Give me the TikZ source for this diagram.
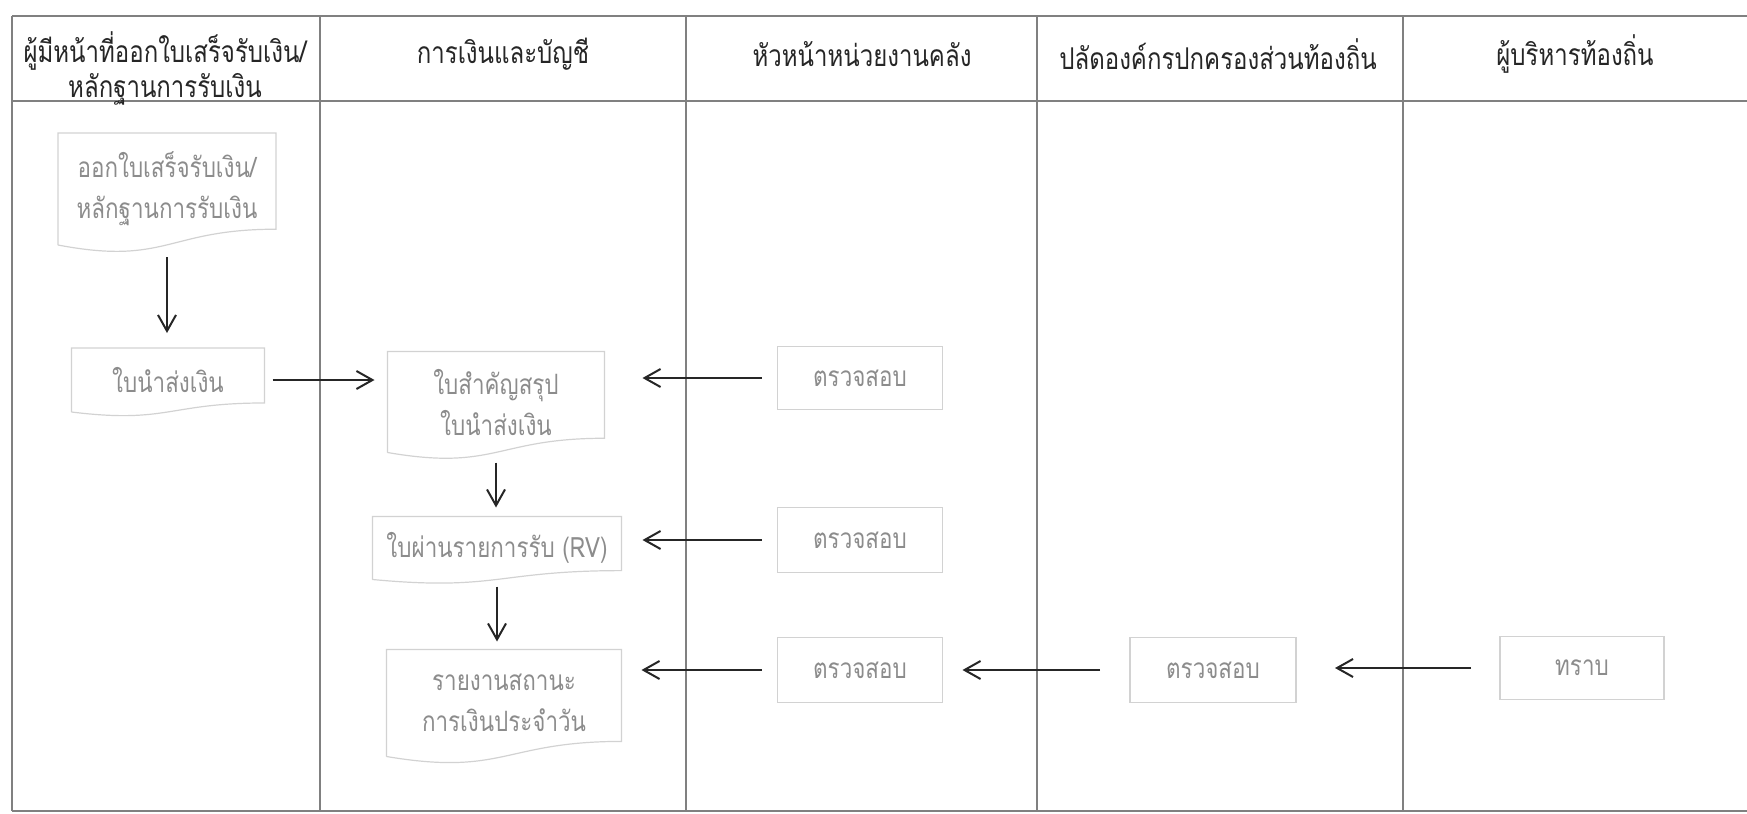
\documentclass[tikz,border=0pt]{standalone}
\usepackage{fontspec}
\newfontfamily\thaifont[Script=Thai,FakeStretch=0.8]{Loma}
\usetikzlibrary{calc,arrows.meta}
\definecolor{boxgray}{HTML}{D2D2D2}
\definecolor{textgray}{HTML}{8C8C8C}
\definecolor{linegray}{HTML}{808080}

% outline of a document box: flat top, wavy bottom
\newcommand{\docoutline}[1]{%
  \draw[boxline] (#1.south west) -- (#1.north west) -- (#1.north east)
    -- ($(#1.south east)!0.141!(#1.north east)$)
    .. controls ($(#1.south)!0.141!(#1.north)$) and ($(#1.south)!-0.185!(#1.north)$) .. (#1.south west);}

\begin{document}
\begin{tikzpicture}[x=0.5pt, y=-0.5pt,
  lane/.style={linegray, line width=0.7pt},
  lanetitle/.style={font=\thaifont\fontsize{15}{17.5}\selectfont, text=black!85, align=center},
  docbox/.style={inner sep=0pt, outer sep=0pt, align=center, text=textgray, font=\thaifont\fontsize{14}{20.5}\selectfont},
  procbox/.style={docbox, draw=boxgray, line width=0.6pt},
  boxline/.style={boxgray, line width=0.6pt},
  arr/.style={-{Straight Barb[length=8pt,width=9pt]}, line width=1pt, black!85}]
  \useasboundingbox (0,0) rectangle (1747,814);

  % lanes
  \draw[lane] (12,16) -- (1747,16);
  \draw[lane] (12,101) -- (1747,101);
  \draw[lane] (12,811) -- (1747,811);
  \draw[lane] (12,16) -- (12,811);
  \draw[lane] (320,16) -- (320,811);
  \draw[lane] (686,16) -- (686,811);
  \draw[lane] (1037,16) -- (1037,811);
  \draw[lane] (1403,16) -- (1403,811);

  \node[lanetitle] (hd1) at (165,68) {ผู้มีหน้าที่ออกใบเสร็จรับเงิน/\\หลักฐานการรับเงิน};
  \node[lanetitle] (hd2) at (503,54) {การเงินและบัญชี};
  \node[lanetitle] (hd3) at (862,54) {หัวหน้าหน่วยงานคลัง};
  \node[lanetitle] (hd4) at (1218,54) {ปลัดองค์กรปกครองส่วนท้องถิ่น};
  \node[lanetitle] (hd5) at (1575,54) {ผู้บริหารท้องถิ่น};

  % documents
  \node[docbox, minimum width=109pt, minimum height=56pt] (n1) at (167,189) {ออกใบเสร็จรับเงิน/\\หลักฐานการรับเงิน};
  \node[docbox, minimum width=96.5pt, minimum height=32pt] (n2) at (168,380) {ใบนำส่งเงิน};
  \node[docbox, minimum width=108.5pt, minimum height=50.5pt] (n3) at (496,402) {ใบสำคัญสรุป\\ใบนำส่งเงิน};
  \node[docbox, minimum width=124.5pt, minimum height=31.5pt] (n5) at (497,548) {ใบผ่านรายการรับ (RV)};
  \node[docbox, minimum width=117.5pt, minimum height=53.5pt] (n7) at (504,703) {รายงานสถานะ\\การเงินประจำวัน};
  \docoutline{n1}
  \docoutline{n2}
  \docoutline{n3}
  \docoutline{n5}
  \docoutline{n7}

  % checks
  \node[procbox, minimum width=82.5pt, minimum height=31.5pt] (n4) at (860,378) {ตรวจสอบ};
  \node[procbox, minimum width=82.5pt, minimum height=32.5pt] (n6) at (860,540) {ตรวจสอบ};
  \node[procbox, minimum width=82.5pt, minimum height=32.5pt] (n8) at (860,670) {ตรวจสอบ};
  \node[procbox, minimum width=83pt, minimum height=32.5pt] (n9) at (1213,670) {ตรวจสอบ};
  \node[procbox, minimum width=82pt, minimum height=31.5pt] (n10) at (1582,668) {ทราบ};

  \draw[arr, shorten <=6pt, shorten >=7.5pt] (n1.south) -- (n1.south |- n2.north);
  \draw[arr, shorten <=4pt, shorten >=6.5pt] (n2.east) -- (n2.east -| n3.west);
  \draw[arr, shorten <=8pt, shorten >=19pt] (n4.west) -- (n4.west -| n3.east);
  \draw[arr, shorten <=5pt, shorten >=4.5pt] (n3.south) -- (n3.south |- n5.north);
  \draw[arr, shorten <=8pt, shorten >=10.5pt] (n6.west) -- (n6.west -| n5.east);
  \draw[arr, shorten <=3.5pt, shorten >=4pt] (n5.south) -- (n5.south |- n7.north);
  \draw[arr, shorten <=8pt, shorten >=10pt] (n8.west) -- (n8.west -| n7.east);
  \draw[arr, shorten <=15pt, shorten >=10pt] (n9.west) -- (n9.west -| n8.east);
  \draw[arr, shorten <=14.5pt, shorten >=19.5pt] (n10.west) -- (n10.west -| n9.east);
\end{tikzpicture}
\end{document}
